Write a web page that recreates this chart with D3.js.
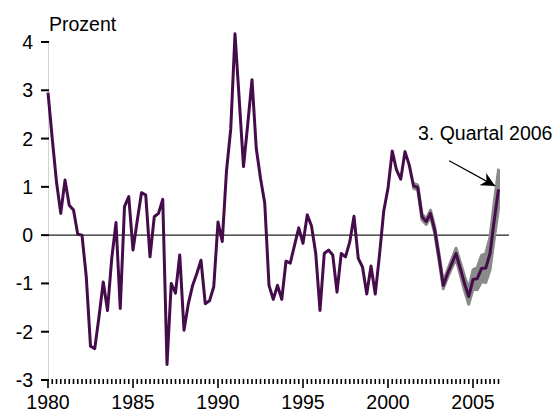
<!DOCTYPE html>
<html>
<head>
<meta charset="utf-8">
<script src="https://cdn.jsdelivr.net/npm/d3@7"></script>
<style>
  body { margin: 0; background: #fff; }
  text { font-family: "Liberation Sans", Arial, sans-serif; fill: #000; }
</style>
</head>
<body>
<div id="chart"></div>
<script>
const width = 559;
const height = 412;

// quarterly values, 1980 Q1 .. 2006 Q3
const startYear = 1980;
const values = [
  2.95, 2.0, 1.1, 0.45, 1.14, 0.62, 0.52, 0.02,
  0.0, -0.86, -2.3, -2.35, -1.69, -0.97, -1.56, -0.48,
  0.26, -1.52, 0.59, 0.8, -0.31, 0.3, 0.88, 0.83,
  -0.45, 0.38, 0.45, 0.74, -2.68, -1.0, -1.2, -0.41,
  -1.97, -1.43, -1.05, -0.8, -0.52, -1.42, -1.36, -1.07,
  0.27, -0.13, 1.33, 2.2, 4.17, 2.8, 1.42, 2.3,
  3.22, 1.8, 1.18, 0.66, -1.04, -1.33, -1.04, -1.33,
  -0.54, -0.58, -0.21, 0.15, -0.17, 0.42, 0.19, -0.38,
  -1.56, -0.38, -0.31, -0.41, -1.18, -0.38, -0.45, -0.14,
  0.39, -0.48, -0.66, -1.22, -0.64, -1.22, -0.41, 0.5,
  0.97, 1.74, 1.35, 1.16, 1.73, 1.45, 1.02, 0.99,
  0.38, 0.28, 0.45, 0.1, -0.45, -1.04, -0.8, -0.59,
  -0.38, -0.69, -1.0, -1.27, -0.92, -0.9, -0.69, -0.68,
  -0.38, 0.31, 0.95
];

// grey band (uncertainty), 2001 Q3 .. 2006 Q3
const bandStart = 86;
const bandLow = [
  0.97, 0.94, 0.32, 0.22, 0.38, 0.03, -0.52, -1.11, -0.88, -0.68,
  -0.49, -0.82, -1.15, -1.43, -1.12, -1.13, -0.96, -0.98, -0.72, -0.07, 0.55
];
const bandHigh = [
  1.07, 1.04, 0.44, 0.34, 0.52, 0.17, -0.38, -0.97, -0.72, -0.5,
  -0.27, -0.56, -0.85, -1.11, -0.72, -0.67, -0.42, -0.38, -0.04, 0.69, 1.35
];

const yTicks = [-3, -2, -1, 0, 1, 2, 3, 4];
const xLabels = [1980, 1985, 1990, 1995, 2000, 2005];

const annotText = "3. Quartal 2006";
const annotFrom = [2003.6, 1.54];
const annotTo = [2006.3, 1.02];

const quarterDate = i => startYear + i / 4;

const svg = d3.select("#chart").append("svg")
  .attr("width", width)
  .attr("height", height);

const x = d3.scaleLinear().domain([1980, 2005]).range([48, 473]);
const y = d3.scaleLinear().domain([-3, 4]).range([380, 42]);

// y axis line
svg.append("line")
  .attr("x1", 48.5).attr("x2", 48.5)
  .attr("y1", y(4)).attr("y2", 384)
  .attr("stroke", "#d4d4d4").attr("stroke-width", 1);

// y ticks + labels
const yAxis = svg.append("g");
yAxis.selectAll("line").data(yTicks).enter().append("line")
  .attr("x1", 41).attr("x2", 49)
  .attr("y1", d => y(d)).attr("y2", d => y(d))
  .attr("stroke", "#000").attr("stroke-width", 2);
yAxis.selectAll("text").data(yTicks).enter().append("text")
  .attr("x", 33)
  .attr("y", d => y(d) + 7)
  .attr("text-anchor", "end")
  .style("font-size", "19.5px")
  .text(d => d);

svg.append("text")
  .attr("x", 49).attr("y", 31)
  .style("font-size", "19.5px")
  .text("Prozent");

// x axis: quarterly ticks
const quarters = d3.range(values.length);
svg.append("g").selectAll("line").data(quarters).enter().append("line")
  .attr("x1", i => x(quarterDate(i))).attr("x2", i => x(quarterDate(i)))
  .attr("y1", 379)
  .attr("y2", i => (i % 20 === 0 ? 388 : 384))
  .attr("stroke", "#000").attr("stroke-width", 1.6);

svg.append("g").selectAll("text").data(xLabels).enter().append("text")
  .attr("x", d => x(d))
  .attr("y", 409)
  .attr("text-anchor", "middle")
  .style("font-size", "19.5px")
  .text(d => d);

// zero line
svg.append("line")
  .attr("x1", 48).attr("x2", 509)
  .attr("y1", y(0)).attr("y2", y(0))
  .attr("stroke", "#222").attr("stroke-width", 1.2);

// band
const area = d3.area()
  .x((d, k) => x(quarterDate(bandStart + k)))
  .y0((d, k) => y(bandLow[k]))
  .y1((d, k) => y(bandHigh[k]));
svg.append("path")
  .datum(bandLow)
  .attr("d", area)
  .attr("fill", "#8a8a8a")
  .attr("stroke", "#8a8a8a")
  .attr("stroke-width", 3)
  .attr("stroke-linejoin", "round");

// main line
const line = d3.line()
  .x((d, i) => x(quarterDate(i)))
  .y(d => y(d));
svg.append("path")
  .datum(values)
  .attr("d", line)
  .attr("fill", "none")
  .attr("stroke", "#440c4a")
  .attr("stroke-width", 3)
  .attr("stroke-linejoin", "round");

// annotation
svg.append("defs").append("marker")
  .attr("id", "head")
  .attr("viewBox", "0 0 10 10")
  .attr("refX", 10).attr("refY", 5)
  .attr("markerWidth", 20).attr("markerHeight", 14)
  .attr("markerUnits", "userSpaceOnUse")
  .attr("orient", "auto")
  .append("path")
  .attr("d", "M0,0 L10,5 L0,10 L3,5 Z")
  .attr("fill", "#000");

svg.append("line")
  .attr("x1", x(annotFrom[0])).attr("y1", y(annotFrom[1]))
  .attr("x2", x(annotTo[0])).attr("y2", y(annotTo[1]))
  .attr("stroke", "#000").attr("stroke-width", 1.2)
  .attr("marker-end", "url(#head)");

svg.append("text")
  .attr("x", 418).attr("y", 140)
  .style("font-size", "19.5px")
  .text(annotText);
</script>
</body>
</html>
